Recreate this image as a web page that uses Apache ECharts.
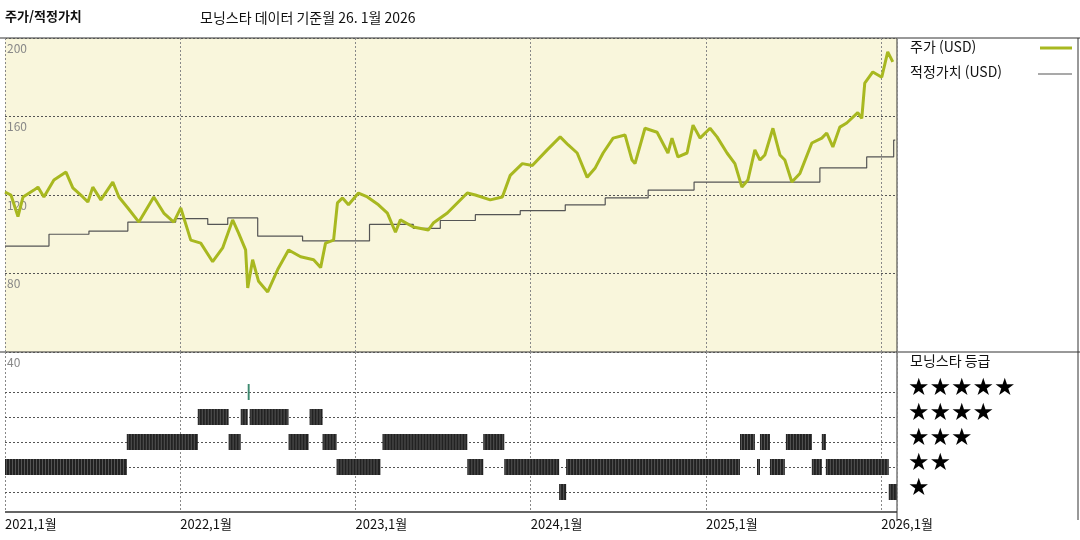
<!DOCTYPE html>
<html lang="ko">
<head>
<meta charset="UTF-8">
<title>주가/적정가치</title>
<script src="https://cdn.jsdelivr.net/npm/echarts@6/dist/echarts.min.js"></script>
<style>html,body{margin:0;padding:0;background:#fff}</style>
</head>
<body>
<div id="main" style="width:1080px;height:540px"></div>
<script>
// 주가 (연도 소수, USD)
var priceDates = [2021.0,2021.034,2021.074,2021.103,2021.165,2021.188,2021.222,2021.279,2021.348,2021.387,2021.444,2021.473,2021.501,2021.547,2021.615,2021.650,2021.701,2021.764,2021.849,2021.906,2021.963,
  2022.003,2022.060,2022.117,2022.185,2022.242,2022.299,2022.333,2022.373,2022.385,2022.413,2022.447,2022.499,2022.556,2022.618,2022.687,2022.761,2022.801,2022.829,2022.875,2022.897,2022.926,2022.960,
  2023.017,2023.068,2023.131,2023.182,2023.228,2023.256,2023.330,2023.416,2023.444,2023.524,2023.638,2023.684,2023.769,2023.838,2023.883,2023.952,
  2024.009,2024.094,2024.168,2024.214,2024.265,2024.322,2024.368,2024.413,2024.470,2024.538,2024.578,2024.595,2024.652,2024.721,2024.783,2024.806,2024.840,2024.892,2024.926,2024.966,
  2025.023,2025.063,2025.120,2025.165,2025.205,2025.239,2025.279,2025.308,2025.336,2025.382,2025.422,2025.450,2025.490,2025.536,2025.604,2025.661,2025.689,2025.724,2025.764,2025.803,2025.866,2025.889,2025.906,2025.952,
  2026.003,2026.037,2026.066];
var priceValues = [121.5,120,109,119,122.5,124,119,127.6,131.7,123.6,119,116.4,124,117.5,126.6,119,113.4,106.2,119,110.8,106.2,
  113.4,97,95.5,86,93,107.3,100.6,92,72.6,87,76,70.6,82,92,88.5,87,83,95.5,97,116,118.5,115,
  121,119,115,110.8,101,107.3,103.7,102.2,105.7,110.8,121,120,117.5,119,130,136,
  135,143,149.6,145.5,141.4,129,133.8,141.4,149,150.6,137.8,136,154,152,141.4,149,139.4,141.4,155.6,149,
  154,149.6,141.4,136,124,127.6,143,137.8,140.4,154,140.4,137.8,126.6,131,146.5,149,151.6,144.5,154.6,156.7,162,159,177,182.7,
  180,192.9,187.8];

// 적정가치 (계단)
var fairDates = [2021.0,2021.251,2021.479,2021.701,2021.974,2022.157,2022.271,2022.442,2022.698,2023.080,2023.330,2023.484,2023.684,2023.940,2024.197,2024.425,2024.670,2024.932,2025.650,2025.917,2026.071,2026.08];
var fairValues = [94,100,101.6,106.2,108,105,108.3,99,96.6,105,103,107,110,112,115,118.5,122.5,126.6,133.8,139.4,148,148];

// 모닝스타 등급 구간 [시작, 끝, 별 수]
var ratingSegments = [
  [2021.0,2021.695,2],[2021.695,2022.100,3],[2022.100,2022.276,4],[2022.276,2022.345,3],[2022.345,2022.385,4],[2022.385,2022.396,5],
  [2022.396,2022.618,4],[2022.618,2022.732,3],[2022.738,2022.812,4],[2022.812,2022.892,3],[2022.892,2023.142,2],[2023.154,2023.638,3],
  [2023.638,2023.729,2],[2023.729,2023.849,3],[2023.849,2024.162,2],[2024.162,2024.202,1],[2024.202,2025.194,2],[2025.194,2025.279,3],
  [2025.291,2025.308,2],[2025.308,2025.365,3],[2025.365,2025.450,2],[2025.456,2025.604,3],[2025.604,2025.661,2],[2025.661,2025.684,3],
  [2025.684,2026.043,2],[2026.043,2026.09,1]
];
var starLabels = ['★★★★★','★★★★','★★★','★★','★'];

var FONT = '"Noto Sans CJK KR", "Noto Sans", sans-serif';
var xMin = 2021.0, xMax = 2026.09;

function zip(a, b) { return a.map(function (d, i) { return [d, b[i]]; }); }

var chart = echarts.init(document.getElementById('main'));

var xAxisBase = {
  type: 'value', min: xMin, max: xMax, interval: 1,
  axisTick: { show: false }, axisLine: { show: false },
  splitLine: { show: true, lineStyle: { color: '#888', type: [2, 2], width: 1 } }
};

var option = {
  animation: false,
  textStyle: { fontFamily: FONT },
  grid: [
    { left: 5, right: 183, top: 38, height: 314, backgroundColor: '#f9f6dc', show: true, borderWidth: 0 },
    { left: 5, right: 183, top: 352, height: 160 }
  ],
  xAxis: [
    Object.assign({ gridIndex: 0, axisLabel: { show: false } }, xAxisBase),
    Object.assign({ gridIndex: 1, axisLabel: {
      show: true, color: '#111', fontSize: 13, align: 'left', margin: 6,
      formatter: function (v) { return v + ',1월'; }
    } }, xAxisBase)
  ],
  yAxis: [
    { gridIndex: 0, type: 'value', min: 40, max: 200, interval: 40,
      axisLine: { show: false }, axisTick: { show: false },
      axisLabel: { inside: true, color: '#888', fontSize: 12, verticalAlign: 'top', margin: 2, padding: [4, 0, 0, 0] },
      splitLine: { show: true, lineStyle: { color: '#555', type: [2, 2] } } },
    { gridIndex: 1, type: 'value', min: 0.2, max: 6.6,
      axisLine: { show: false }, axisTick: { show: false }, axisLabel: { show: false }, splitLine: { show: false } }
  ],
  series: [
    { type: 'line', xAxisIndex: 0, yAxisIndex: 0, data: zip(fairDates, fairValues), step: 'end',
      symbol: 'none', lineStyle: { color: '#555', width: 1.2 }, z: 3 },
    { type: 'line', xAxisIndex: 0, yAxisIndex: 0, data: zip(priceDates, priceValues),
      symbol: 'none', lineStyle: { color: '#a8b820', width: 3 }, z: 4 },
    { type: 'line', xAxisIndex: 1, yAxisIndex: 1, data: [],
      markLine: { silent: true, symbol: 'none', label: { show: false },
        lineStyle: { color: '#555', type: [2, 2], width: 1 },
        data: [1, 2, 3, 4, 5].map(function (v) { return { yAxis: v }; }) } },
    { type: 'custom', xAxisIndex: 1, yAxisIndex: 1, data: ratingSegments,
      renderItem: function (params, api) {
        var p0 = api.coord([api.value(0), api.value(2)]);
        var p1 = api.coord([api.value(1), api.value(2)]);
        var h = 16, top = p0[1] - h / 2;
        var isFive = api.value(2) === 5;
        var children = [{ type: 'rect', shape: { x: p0[0], y: top, width: Math.max(p1[0] - p0[0], 1.5), height: h },
          style: { fill: isFive ? '#3d8a70' : '#222' } }];
        if (!isFive) {
          for (var x = p0[0] + 1.5; x < p1[0] - 0.5; x += 3) {
            children.push({ type: 'line', shape: { x1: x, y1: top, x2: x, y2: top + h },
              style: { stroke: '#777', lineWidth: 0.6 } });
          }
        }
        return { type: 'group', children: children };
      }, z: 5 }
  ],
  graphic: [
    { type: 'text', left: 5, top: 10, style: { text: '주가/적정가치', font: 'bold 13px ' + FONT, fill: '#111' } },
    { type: 'text', left: 200, top: 11, style: { text: '모닝스타 데이터 기준월 26. 1월 2026', font: '14px ' + FONT, fill: '#111' } },
    { type: 'line', shape: { x1: 0, y1: 38, x2: 1080, y2: 38 }, style: { stroke: '#333', lineWidth: 1 } },
    { type: 'line', shape: { x1: 0, y1: 352, x2: 1080, y2: 352 }, style: { stroke: '#333', lineWidth: 1 } },
    { type: 'line', shape: { x1: 5, y1: 512, x2: 897, y2: 512 }, style: { stroke: '#333', lineWidth: 1.5 } },
    { type: 'line', shape: { x1: 897, y1: 38, x2: 897, y2: 520 }, style: { stroke: '#333', lineWidth: 1 } },
    { type: 'line', shape: { x1: 1078, y1: 38, x2: 1078, y2: 520 }, style: { stroke: '#333', lineWidth: 1 } },
    { type: 'text', left: 910, top: 40, style: { text: '주가 (USD)', font: '14px ' + FONT, fill: '#111' } },
    { type: 'line', shape: { x1: 1040, y1: 48, x2: 1072, y2: 48 }, style: { stroke: '#a8b820', lineWidth: 3 } },
    { type: 'text', left: 910, top: 65, style: { text: '적정가치 (USD)', font: '14px ' + FONT, fill: '#111' } },
    { type: 'line', shape: { x1: 1038, y1: 74, x2: 1072, y2: 74 }, style: { stroke: '#555', lineWidth: 1.2 } },
    { type: 'text', left: 910, top: 354, style: { text: '모닝스타 등급', font: '14px ' + FONT, fill: '#111' } }
  ].concat(starLabels.map(function (s, i) {
    return { type: 'text', left: 908, top: 377 + i * 25, style: { text: s, font: '24px "DejaVu Sans", ' + FONT, fill: '#000' } };
  }))
};
chart.setOption(option);
</script>
</body>
</html>
